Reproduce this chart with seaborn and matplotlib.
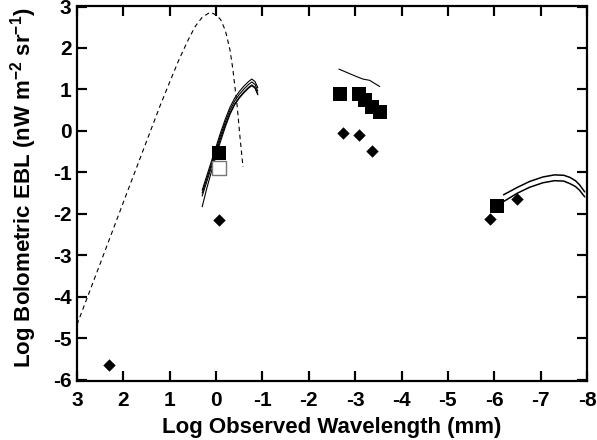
import matplotlib
matplotlib.use("Agg")
import matplotlib.pyplot as plt
from matplotlib import font_manager as fm
import seaborn as sns

# ---- data ----
sq_x = [-0.06, -2.67, -3.08, -3.21, -3.36, -3.53, -6.05]
sq_y = [-0.53, 0.89, 0.89, 0.75, 0.58, 0.46, -1.81]
osq_x = [-0.06]
osq_y = [-0.89]
dia_x = [2.31, -0.06, -2.73, -3.08, -3.36, -5.90, -6.50]
dia_y = [-5.64, -2.14, -0.05, -0.10, -0.48, -2.12, -1.64]
cmb_x = [3.0, 2.5, 2.0, 1.5, 1.2, 1.0, 0.8, 0.6, 0.45, 0.3, 0.13, 0.0,
         -0.1, -0.2, -0.3, -0.36, -0.45, -0.52, -0.58]
cmb_y = [-4.67, -3.2, -1.72, -0.25, 0.63, 1.18, 1.72, 2.2, 2.52, 2.74, 2.86, 2.80,
         2.68, 2.42, 1.95, 1.50, 0.65, -0.20, -0.87]
bun_x = [0.30, 0.20, 0.10, 0.00, -0.10, -0.20, -0.30, -0.40, -0.50, -0.60,
         -0.70, -0.77, -0.84, -0.90]
bun_a = [-1.43, -1.08, -0.73, -0.38, -0.03, 0.29, 0.57, 0.79, 0.95, 1.08, 1.19, 1.25, 1.19, 1.04]
bun_b = [-1.50, -1.15, -0.80, -0.45, -0.10, 0.22, 0.50, 0.72, 0.88, 1.01, 1.12, 1.18, 1.12, 0.96]
bun_c = [-1.57, -1.22, -0.87, -0.52, -0.17, 0.15, 0.43, 0.65, 0.81, 0.94, 1.05, 1.11, 1.05, 0.89]
bun_d = [-1.83, -1.38, -0.98, -0.60, -0.24, 0.10, 0.40, 0.63, 0.79, 0.92, 1.03, 1.09, 1.03, 0.87]
mid_x = [-2.65, -3.03, -3.17, -3.31, -3.53]
mid_y = [1.49, 1.31, 1.25, 1.22, 1.07]
up_x = [-6.20, -6.50, -6.76, -7.05, -7.30, -7.50, -7.63, -7.75, -7.84, -7.95]
up_y = [-1.54, -1.36, -1.22, -1.11, -1.06, -1.07, -1.12, -1.20, -1.30, -1.47]
lo_x = [-6.16, -6.50, -6.76, -7.05, -7.30, -7.50, -7.63, -7.75, -7.84, -7.95]
lo_y = [-1.73, -1.50, -1.36, -1.25, -1.20, -1.21, -1.27, -1.34, -1.43, -1.59]

x_ticks = [3, 2, 1, 0, -1, -2, -3, -4, -5, -6, -7, -8]
y_ticks = [-6, -5, -4, -3, -2, -1, 0, 1, 2, 3]
x_ticklabels = ['3', '2', '1', '0', '-1', '-2', '-3', '-4', '-5', '-6', '-7', '-8']
y_ticklabels = ['-6', '-5', '-4', '-3', '-2', '-1', '0', '1', '2', '3']

# ---- style ----
sns.set_theme(style="ticks")
plt.rcParams['font.family'] = ['Liberation Sans', 'DejaVu Sans']
plt.rcParams['mathtext.fontset'] = 'custom'
plt.rcParams['mathtext.rm'] = 'Liberation Sans:bold'
plt.rcParams['mathtext.it'] = 'Liberation Sans:bold'
plt.rcParams['mathtext.bf'] = 'Liberation Sans:bold'
plt.rcParams['mathtext.default'] = 'bf'

bold_path = fm.findfont(fm.FontProperties(family='Liberation Sans', weight='bold'))
tick_fp = fm.FontProperties(fname=bold_path, size=15)
lab_fp = fm.FontProperties(fname=bold_path, size=16)

W, H = 597, 440
AX_L, AX_R, AX_T, AX_B = 77, 587, 6.5, 381
fig = plt.figure(figsize=(W / 100, H / 100), dpi=100)
ax = fig.add_axes([AX_L / W, 1 - AX_B / H, (AX_R - AX_L) / W, (AX_B - AX_T) / H])

lw = 0.8
sns.lineplot(x=cmb_x, y=cmb_y, sort=False, estimator=None, color='black',
             lw=lw, linestyle=(0, (4, 3.2)), ax=ax)
for yy in (bun_a, bun_b, bun_c, bun_d):
    sns.lineplot(x=bun_x, y=yy, sort=False, estimator=None, color='black', lw=lw, ax=ax)
sns.lineplot(x=mid_x, y=mid_y, sort=False, estimator=None, color='black', lw=lw, ax=ax)
sns.lineplot(x=up_x, y=up_y, sort=False, estimator=None, color='black', lw=1.1, ax=ax)
sns.lineplot(x=lo_x, y=lo_y, sort=False, estimator=None, color='black', lw=1.1, ax=ax)

sns.scatterplot(x=osq_x, y=osq_y, marker='s', s=90, facecolor='white',
                edgecolor='#777777', linewidth=1.0, ax=ax, zorder=3)
sns.scatterplot(x=sq_x, y=sq_y, marker='s', s=92, color='black', linewidth=0, ax=ax, zorder=4)
sns.scatterplot(x=dia_x, y=dia_y, marker='D', s=40, color='black', linewidth=0, ax=ax, zorder=4)

ax.set_xlim(3, -8)
ax.set_ylim(-6.03, 3.0)
ax.set_xticks(x_ticks, x_ticklabels)
ax.set_yticks(y_ticks, y_ticklabels)
for lab in ax.get_xticklabels() + ax.get_yticklabels():
    lab.set_fontproperties(tick_fp)
for sp in ax.spines.values():
    sp.set_visible(True)
    sp.set_linewidth(1.6)
    sp.set_color('black')

# inward tick marks on all four sides, at the axis tick positions
tick_len_px = 7 * 100 / 72
fx = tick_len_px / (AX_B - AX_T)
fy = tick_len_px / (AX_R - AX_L)
xt = ax.get_xaxis_transform()
yt = ax.get_yaxis_transform()
ax.vlines(x_ticks, 0, fx, transform=xt, colors='black', linewidths=1.5,
          clip_on=False, zorder=10)
ax.vlines(x_ticks, 1 - fx, 1, transform=xt, colors='black', linewidths=1.5,
          clip_on=False, zorder=10)
ax.hlines(y_ticks, 0, fy, transform=yt, colors='black', linewidths=1.5,
          clip_on=False, zorder=10)
ax.hlines(y_ticks, 1 - fy, 1, transform=yt, colors='black', linewidths=1.5,
          clip_on=False, zorder=10)

ax.set_xlabel('Log Observed Wavelength (mm)', fontproperties=lab_fp, color='black')
ax.set_ylabel(r'Log Bolometric EBL (nW m$^{\mathbf{-2}}$ sr$^{\mathbf{-1}}$)',
              fontproperties=lab_fp, color='black')
ax.xaxis.set_label_coords(0.5, (AX_B - 427) / (AX_B - AX_T), transform=ax.transAxes)
ax.yaxis.set_label_coords((24 - AX_L) / (AX_R - AX_L), 0.515, transform=ax.transAxes)
ax.xaxis.label.set_va('center')
ax.yaxis.label.set_va('center')

ax.tick_params(axis='both', which='major', direction='in', top=True, right=True,
               bottom=True, left=True, length=7, width=1.5, color='black',
               labelcolor='black')
ax.tick_params(axis='x', pad=7)
ax.tick_params(axis='y', pad=4)

fig.savefig('out.png', dpi=100, facecolor='white')
